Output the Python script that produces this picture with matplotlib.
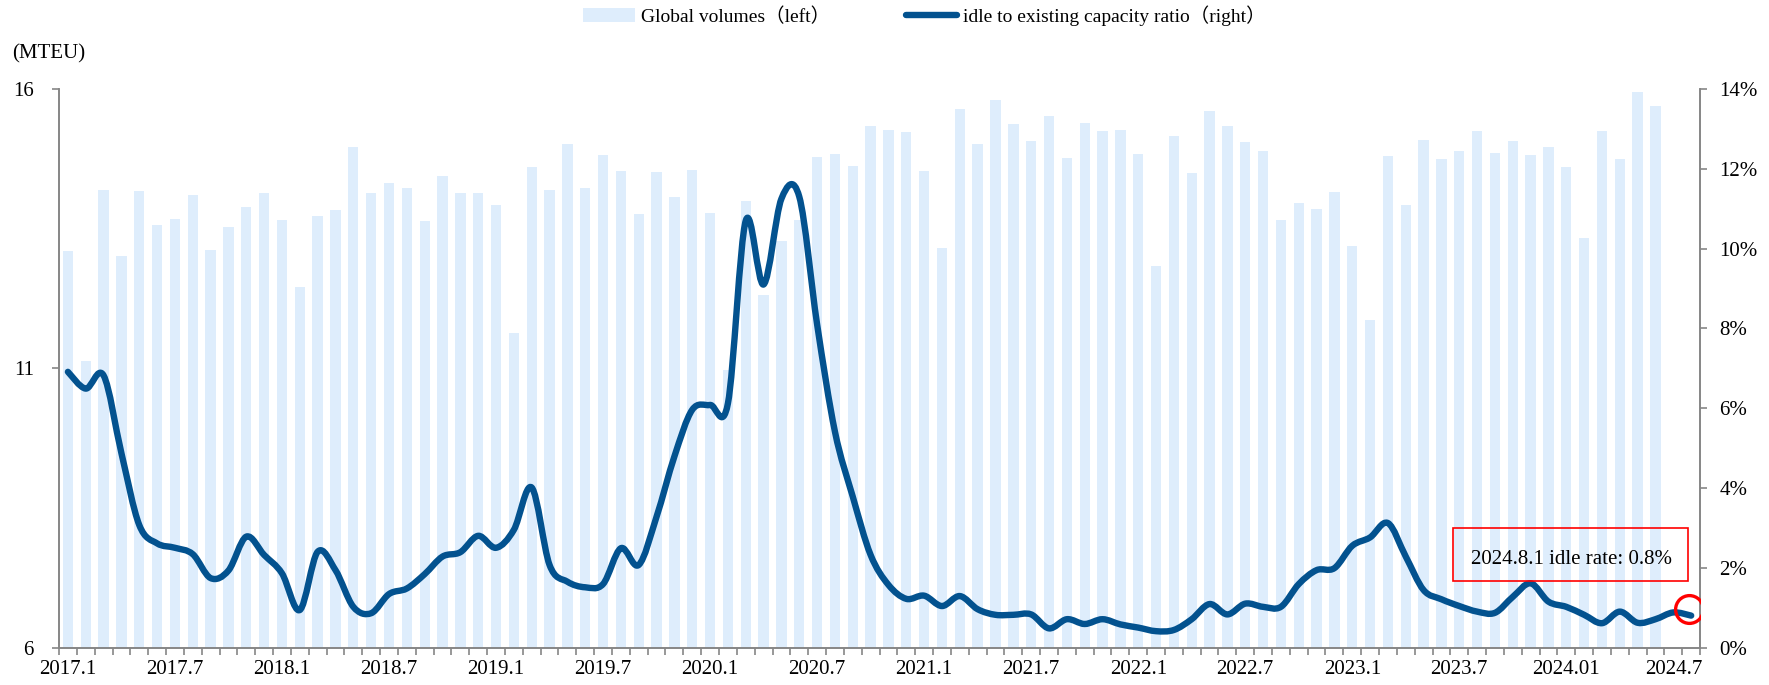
import matplotlib
matplotlib.use("Agg")
import matplotlib.pyplot as plt
from matplotlib.path import Path
from matplotlib.patches import PathPatch, Rectangle, Patch
from matplotlib.lines import Line2D
from matplotlib.ticker import FuncFormatter, FixedLocator

plt.rcParams['font.family'] = ['Liberation Serif', 'Noto Sans CJK SC', 'DejaVu Sans']

# ── data: monthly, 2017.1 .. 2024.8 ──
tick_labels = ["2017.1", "2017.7", "2018.1", "2018.7", "2019.1", "2019.7",
               "2020.1", "2020.7", "2021.1", "2021.7", "2022.1", "2022.7",
               "2023.1", "2023.7", "2024.01", "2024.7"]
n_months = 92

# global volumes (MTEU), 2017.1 .. 2024.6
volumes = [13.10, 11.13, 14.20, 13.01, 14.18, 13.56, 13.67, 14.10, 13.11, 13.53,
           13.89, 14.14, 13.65, 12.45, 13.73, 13.84, 14.96, 14.13, 14.32, 14.23,
           13.63, 14.45, 14.13, 14.14, 13.93, 11.63, 14.60, 14.20, 15.02, 14.23,
           14.82, 14.54, 13.77, 14.51, 14.07, 14.55, 13.78, 10.96, 13.99, 12.31,
           13.28, 13.66, 14.78, 14.83, 14.62, 15.34, 15.27, 15.23, 14.53, 13.16,
           15.64, 15.01, 15.80, 15.38, 15.06, 15.52, 14.77, 15.39, 15.25, 15.27,
           14.84, 12.83, 15.16, 14.49, 15.60, 15.34, 15.05, 14.89, 13.65, 13.96,
           13.86, 14.16, 13.19, 11.87, 14.80, 13.92, 15.08, 14.75, 14.89, 15.24,
           14.86, 15.07, 14.82, 14.97, 14.61, 13.33, 15.24, 14.75, 15.95, 15.69]

# idle / existing capacity (%), 2017.1 .. 2024.8
idle_ratio = [6.91, 6.49, 6.82, 4.87, 3.07, 2.61, 2.50, 2.34, 1.74, 1.93,
              2.78, 2.32, 1.86, 0.94, 2.40, 1.94, 1.02, 0.86, 1.34, 1.48,
              1.84, 2.28, 2.39, 2.80, 2.50, 2.95, 4.01, 2.07, 1.65, 1.51,
              1.59, 2.49, 2.07, 3.28, 4.79, 5.96, 6.08, 6.12, 10.70, 9.10,
              11.25, 11.30, 8.10, 5.41, 3.78, 2.32, 1.57, 1.22, 1.30, 1.04,
              1.29, 0.96, 0.82, 0.82, 0.83, 0.48, 0.71, 0.59, 0.71, 0.58,
              0.50, 0.41, 0.44, 0.71, 1.09, 0.83, 1.10, 1.02, 1.02, 1.59,
              1.94, 1.99, 2.55, 2.76, 3.12, 2.28, 1.44, 1.21, 1.04, 0.90,
              0.87, 1.27, 1.61, 1.15, 1.02, 0.82, 0.61, 0.90, 0.62, 0.71,
              0.88, 0.80]

BAR_C = '#deedfc'
LINE_C = '#03528f'
AXIS_C = '#868686'


def smooth_path(xs, ys):
    """Cubic Bezier through every point (Catmull-Rom style smoothing)."""
    verts = [(xs[0], ys[0])]
    codes = [Path.MOVETO]
    n = len(xs)
    for i in range(n - 1):
        x0, y0 = (xs[i - 1], ys[i - 1]) if i > 0 else (xs[i], ys[i])
        x3, y3 = (xs[i + 2], ys[i + 2]) if i + 2 < n else (xs[i + 1], ys[i + 1])
        c1 = (xs[i] + (xs[i + 1] - x0) / 6, ys[i] + (ys[i + 1] - y0) / 6)
        c2 = (xs[i + 1] - (x3 - xs[i]) / 6, ys[i + 1] - (y3 - ys[i]) / 6)
        verts += [c1, c2, (xs[i + 1], ys[i + 1])]
        codes += [Path.CURVE4] * 3
    return Path(verts, codes)


fig = plt.figure(figsize=(17.69, 6.85), dpi=100)
ax = fig.add_axes([0.03335, 0.0547, 0.9277, 0.8154])
ax2 = ax.twinx()

# bars (left axis)
xb = list(range(len(volumes)))
ax.bar(xb, volumes, width=0.58, color=BAR_C, zorder=1)
ax.set_xlim(-0.5, n_months - 0.5)
ax.set_ylim(6, 16)
ax.set_yticks([6, 11, 16])

# smoothed idle-ratio line (right axis)
xl = list(range(len(idle_ratio)))
ax2.add_patch(PathPatch(smooth_path(xl, idle_ratio), fill=False, edgecolor=LINE_C,
                        lw=4.6, capstyle='round', joinstyle='round', zorder=3))
ax2.set_ylim(0, 14)
ax2.set_yticks(range(0, 15, 2))
ax2.yaxis.set_major_formatter(FuncFormatter(lambda v, p: f"{v:.0f}%"))

# x ticks: month boundaries as marks, labels every 6 months
ax.xaxis.set_major_locator(FixedLocator(list(range(0, n_months, 6))))
ax.set_xticklabels(tick_labels)
ax.xaxis.set_minor_locator(FixedLocator([k - 0.5 for k in range(n_months + 1)]))
ax.tick_params(axis='x', which='major', length=0, pad=9, labelsize=15)
ax.tick_params(axis='x', which='minor', length=5, width=1.2, color=AXIS_C)
ax.tick_params(axis='y', length=5, width=1.2, color=AXIS_C, pad=13, labelsize=15)
ax2.tick_params(axis='y', length=5, width=1.2, color=AXIS_C, pad=9, labelsize=15)

for a in (ax, ax2):
    a.spines['top'].set_visible(False)
    for s in ('left', 'right', 'bottom'):
        a.spines[s].set_color(AXIS_C)
        a.spines[s].set_linewidth(1.2)

# annotation for the latest reading
last_x, last_v = xl[-1], idle_ratio[-1]
ax2.plot([last_x - 0.15], [last_v + 0.17], marker='o', ms=20, mfc='none',
         mec='#ff0000', mew=2.4, zorder=4)
ax2.add_patch(Rectangle((0.8495, 0.119), 0.1432, 0.095, transform=ax2.transAxes,
                        fill=False, edgecolor='#ff0000', lw=1.2, zorder=4))
ax2.text(0.9218, 0.158, f"2024.8.1 idle rate: {last_v:.1f}%", transform=ax2.transAxes,
         ha='center', va='center', fontsize=15, zorder=5)

fig.text(0.0066, 0.921, "(MTEU)", ha='left', va='center', fontsize=15)

handles = [Patch(facecolor=BAR_C, edgecolor='none'),
           Line2D([0], [0], color=LINE_C, lw=4.6, solid_capstyle='round')]
fig.legend(handles, ["Global volumes（left）", "idle to existing capacity ratio（right）"],
           loc='center', bbox_to_anchor=(0.5226, 0.977), ncol=2, frameon=False,
           fontsize=14, handlelength=2.65, handletextpad=0.3, columnspacing=3.9)

fig.savefig("out.png", dpi=100)
